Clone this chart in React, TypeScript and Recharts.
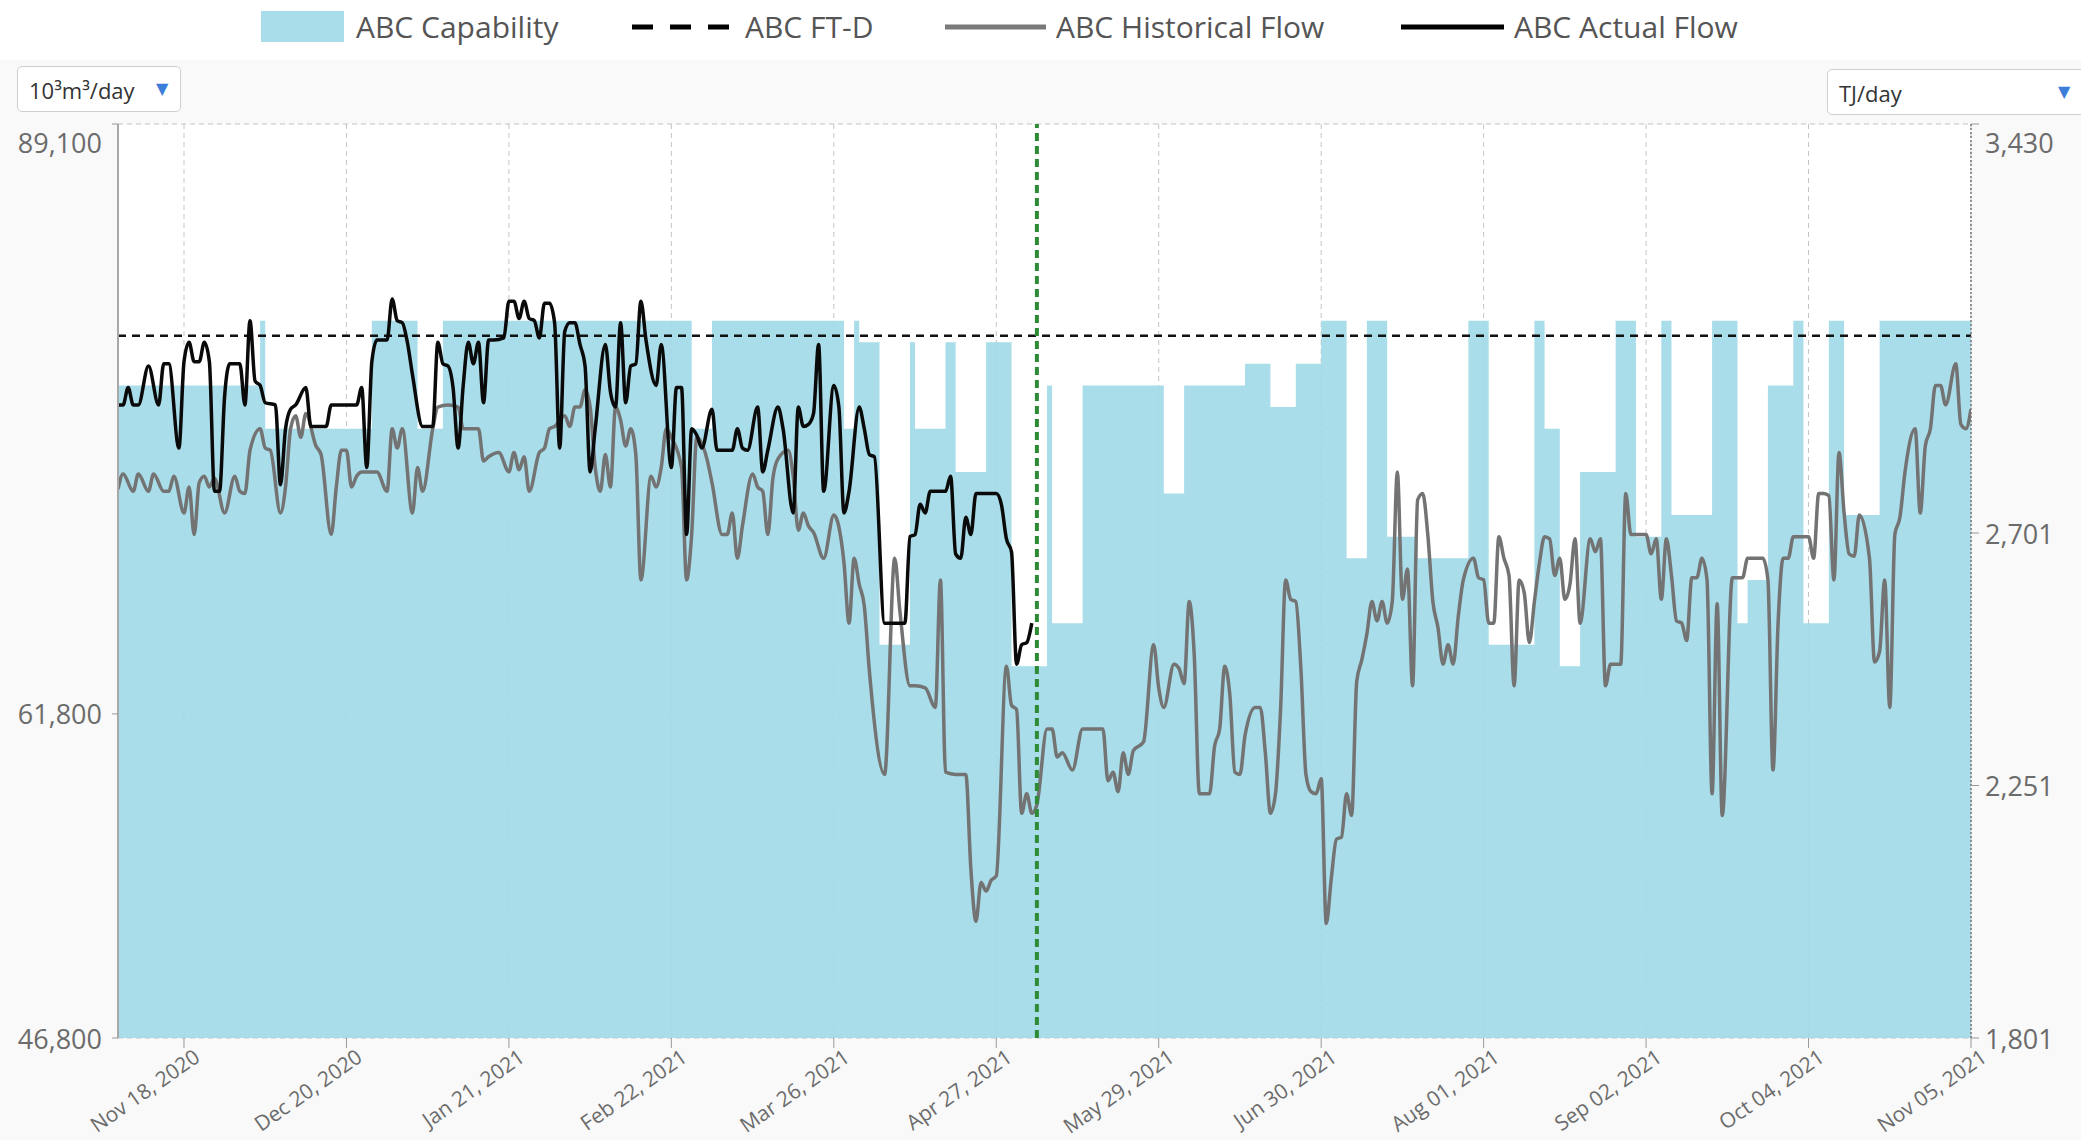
import { ComposedChart, Area, Line, XAxis, YAxis, CartesianGrid, ReferenceLine } from 'recharts'

// day 0 = Nov 05, 2020 (one point per day, only the turning points are listed)
const dateTicks = [13, 45, 77, 109, 141, 173, 205, 237, 269, 301, 333, 365]
const dateLabels = [
  'Nov 18, 2020', 'Dec 20, 2020', 'Jan 21, 2021', 'Feb 22, 2021', 'Mar 26, 2021', 'Apr 27, 2021',
  'May 29, 2021', 'Jun 30, 2021', 'Aug 01, 2021', 'Sep 02, 2021', 'Oct 04, 2021', 'Nov 05, 2021'
]
const volumeTicks = [46800, 61800, 89100]
const energyTicks = [1801, 2251, 2701, 3430]
const ftdLevel = [[0, 79300], [365, 79300]]
const cutoverDay = 181

const capability = [
  [0, 77000], [28, 80000], [29, 75000], [50, 80000], [59, 75000], [64, 80000], [113, 75000],
  [117, 80000], [143, 75000], [145, 80000], [146, 79000], [150, 65000], [156, 79000], [157, 75000],
  [163, 79000], [165, 73000], [171, 79000], [176, 64000], [183, 77000], [184, 66000], [190, 77000],
  [206, 72000], [210, 77000], [222, 78000], [227, 76000], [232, 78000], [237, 80000], [242, 69000],
  [246, 80000], [250, 70000], [256, 69000], [266, 80000], [270, 65000], [279, 80000], [281, 75000],
  [284, 64000], [288, 73000], [295, 80000], [299, 70000], [304, 80000], [306, 71000], [314, 80000],
  [319, 66000], [321, 68000], [325, 77000], [330, 80000], [332, 66000], [337, 80000], [340, 71000],
  [347, 80000], [365, 80000]
]

const historicalFlow = [
  [0, 72200], [1, 72900], [3, 72100], [4, 72900], [6, 72100], [7, 72900], [9, 72100], [10, 72100],
  [11, 72800], [13, 71100], [14, 72300], [15, 70100], [16, 72500], [17, 72800], [18, 72300], [19, 72700],
  [21, 71100], [23, 72800], [24, 72100], [25, 72000], [26, 74000], [28, 75000], [29, 74100], [30, 74000],
  [32, 71100], [33, 72300], [34, 75000], [35, 75600], [36, 74600], [37, 75700], [39, 74200], [40, 73800],
  [42, 70100], [43, 72300], [44, 74000], [45, 74000], [46, 72300], [47, 72800], [48, 73000], [51, 73000],
  [53, 72100], [54, 75000], [55, 74100], [56, 75000], [58, 71100], [59, 73200], [60, 72100], [62, 75000],
  [63, 76000], [65, 76100], [67, 76000], [68, 75000], [71, 75000], [72, 73500], [73, 73700], [75, 73900],
  [77, 73000], [78, 73900], [79, 73100], [80, 73700], [81, 72100], [83, 73900], [84, 74100], [85, 75000],
  [86, 75100], [88, 75600], [89, 75100], [90, 76000], [91, 76000], [92, 76800], [93, 76000], [94, 73200],
  [95, 72100], [96, 73800], [97, 72300], [98, 76000], [99, 75400], [100, 74200], [101, 75000], [102, 73800],
  [103, 68000], [105, 72800], [106, 72300], [107, 73200], [108, 75000], [109, 74600], [111, 73200],
  [112, 68000], [113, 70100], [114, 74600], [116, 73600], [117, 72500], [119, 70100], [120, 70100],
  [121, 71100], [122, 69000], [123, 70500], [125, 72900], [126, 72300], [127, 72100], [128, 70100],
  [129, 72700], [130, 73600], [132, 74000], [133, 72800], [134, 70300], [135, 71100], [136, 70500],
  [137, 70200], [139, 69000], [141, 71000], [143, 68800], [144, 66000], [145, 69000], [146, 67800],
  [147, 66800], [148, 63800], [151, 59000], [153, 69000], [154, 66600], [156, 63100], [157, 63100],
  [159, 63000], [161, 62100], [162, 68000], [163, 59100], [165, 59000], [167, 59000], [168, 54600],
  [169, 52200], [170, 54000], [171, 53600], [172, 54100], [173, 54300], [175, 64000], [176, 62200],
  [177, 62000], [178, 57200], [179, 58100], [180, 57200], [181, 57600], [183, 61100], [184, 61100],
  [185, 59800], [186, 60000], [188, 59200], [190, 61100], [194, 61100], [195, 58700], [196, 59100],
  [197, 58200], [198, 60000], [199, 59000], [200, 60100], [202, 60500], [204, 65000], [205, 63000],
  [206, 62100], [208, 64100], [209, 63900], [210, 63200], [211, 67000], [212, 64500], [213, 58100],
  [215, 58100], [216, 60300], [217, 61100], [218, 64000], [219, 62700], [220, 59100], [221, 59000],
  [222, 60800], [224, 62100], [225, 62100], [226, 60000], [227, 57200], [228, 58100], [229, 62000],
  [230, 68000], [231, 67100], [232, 67000], [233, 63900], [234, 59000], [235, 58200], [236, 58100],
  [237, 58800], [238, 52100], [239, 54200], [240, 56000], [241, 56100], [242, 58100], [243, 57100],
  [244, 63300], [245, 64300], [246, 65500], [247, 67000], [248, 66100], [249, 67000], [250, 66000],
  [251, 67000], [252, 73000], [253, 67100], [254, 68500], [255, 63100], [256, 71700], [257, 72000],
  [258, 70100], [259, 67000], [260, 65800], [261, 64100], [262, 65000], [263, 64100], [264, 66300],
  [265, 68000], [267, 69000], [268, 68100], [269, 68000], [270, 66000], [271, 66000], [272, 70000],
  [273, 69000], [274, 68200], [275, 63100], [276, 68000], [277, 67400], [278, 65100], [279, 67000],
  [280, 68800], [281, 70000], [282, 69900], [283, 68200], [284, 69000], [285, 67100], [286, 67800],
  [287, 69900], [288, 66000], [290, 69900], [291, 69300], [292, 69900], [293, 63100], [294, 64100],
  [296, 64100], [297, 72000], [298, 70100], [301, 70100], [302, 69200], [303, 69900], [304, 67100],
  [305, 69900], [306, 68200], [307, 66100], [308, 66000], [309, 65200], [310, 68100], [311, 68100],
  [312, 69000], [313, 68000], [314, 58100], [315, 66900], [316, 57100], [318, 68100], [320, 68100],
  [321, 69000], [324, 69000], [325, 68000], [326, 59200], [327, 66000], [328, 69000], [329, 69000],
  [330, 70000], [333, 70000], [334, 69000], [335, 72000], [336, 72000], [337, 71900], [338, 68000],
  [339, 73900], [340, 71100], [341, 69200], [342, 69100], [343, 71000], [345, 69000], [346, 64200],
  [347, 64700], [348, 68000], [349, 62100], [350, 70100], [351, 70900], [352, 73000], [354, 75000],
  [355, 71100], [356, 74200], [357, 75000], [358, 77000], [359, 77000], [360, 76100], [362, 78000],
  [363, 75200], [364, 75000], [365, 75900]
]

const actualFlow = [
  [0, 76100], [1, 76100], [2, 76900], [3, 76100], [4, 76100], [6, 77900], [8, 76100], [9, 78000],
  [10, 78000], [12, 74100], [13, 78100], [14, 79000], [15, 78100], [16, 78100], [17, 79000], [18, 78100],
  [19, 72100], [20, 72100], [21, 76500], [22, 78000], [24, 78000], [25, 76100], [26, 80000], [27, 77200],
  [28, 77000], [29, 76200], [31, 76100], [32, 72400], [33, 75000], [34, 75900], [35, 76100], [37, 76900],
  [38, 75100], [41, 75100], [42, 76100], [47, 76100], [48, 76900], [49, 73200], [50, 78100], [51, 79100],
  [53, 79100], [54, 81000], [55, 80000], [56, 79900], [57, 79000], [58, 77500], [60, 75100], [62, 75100],
  [63, 79000], [64, 78000], [65, 77900], [66, 76900], [67, 74100], [68, 77000], [69, 79000], [70, 78000],
  [71, 79000], [72, 76200], [73, 79100], [74, 79100], [76, 79200], [77, 80900], [78, 80900], [79, 80100],
  [80, 80900], [81, 80100], [82, 80000], [83, 79200], [84, 80800], [85, 80800], [86, 79900], [87, 74100],
  [88, 79500], [89, 79900], [90, 79900], [91, 78900], [92, 77900], [93, 73000], [94, 75000], [96, 78900],
  [97, 76700], [98, 76000], [99, 79900], [100, 76200], [101, 77900], [102, 78000], [103, 80900],
  [104, 79100], [106, 77000], [107, 78900], [109, 73200], [110, 76900], [111, 76900], [112, 70100],
  [113, 75000], [114, 74700], [115, 74100], [117, 75900], [118, 74000], [121, 74000], [122, 75000],
  [123, 74100], [124, 74000], [126, 76000], [127, 73000], [128, 74000], [130, 76000], [131, 75000],
  [133, 71100], [134, 76000], [135, 75100], [136, 75200], [137, 75700], [138, 78900], [139, 72100],
  [141, 77000], [142, 76000], [143, 71100], [144, 72100], [146, 76000], [147, 75000], [148, 73800],
  [149, 73700], [151, 66000], [155, 66000], [156, 70000], [157, 70100], [158, 71500], [159, 71100],
  [160, 72100], [163, 72100], [164, 72800], [165, 69200], [166, 69000], [167, 70900], [168, 70100],
  [169, 72000], [173, 72000], [174, 71500], [175, 69900], [176, 69300], [177, 64100], [178, 65000],
  [179, 65100], [180, 66000]
]

const toRows = (pts: number[][]) => pts.map(([day, value]) => ({ day, value }))

const font = '"Open Sans", "DejaVu Sans", sans-serif'

const VolumeTick = ({ x, y, payload }: any) => (
  <text x={x} y={y + (payload.value === 89100 ? 18 : 0)} textAnchor="end" dominantBaseline="central"
    fill="#6b6b6b" fontSize={27} fontFamily={font}>
    {payload.value.toLocaleString('en-US')}
  </text>
)

const EnergyTick = ({ x, y, payload }: any) => (
  <text x={x} y={y + (payload.value === 3430 ? 18 : 0)} textAnchor="start" dominantBaseline="central"
    fill="#6b6b6b" fontSize={27} fontFamily={font}>
    {payload.value.toLocaleString('en-US')}
  </text>
)

const DateTick = ({ x, y, payload }: any) => (
  <g transform={`translate(${x + 10},${y})`}>
    <text transform="rotate(-35)" textAnchor="end" dy="0.6em" fill="#6b6b6b" fontSize={21} fontFamily={font}>
      {dateLabels[dateTicks.indexOf(payload.value)]}
    </text>
  </g>
)

const legendText: any = { position: 'absolute', top: 7, fontSize: 30, fontFamily: font, color: '#555', lineHeight: '40px', whiteSpace: 'nowrap' }

function Legend() {
  return (
    <>
      <div style={{ position: 'absolute', left: 261, top: 11, width: 83, height: 31, background: '#a8dde9' }} />
      <div style={{ ...legendText, left: 356 }}>ABC Capability</div>
      <svg style={{ position: 'absolute', left: 632, top: 22 }} width={100} height={10}>
        <line x1={0} y1={5} x2={98} y2={5} stroke="#000" strokeWidth={5} strokeDasharray="21 17" />
      </svg>
      <div style={{ ...legendText, left: 745 }}>ABC FT-D</div>
      <svg style={{ position: 'absolute', left: 945, top: 22 }} width={102} height={10}>
        <line x1={0} y1={5} x2={101} y2={5} stroke="#7a7a7a" strokeWidth={5} />
      </svg>
      <div style={{ ...legendText, left: 1056 }}>ABC Historical Flow</div>
      <svg style={{ position: 'absolute', left: 1401, top: 22 }} width={104} height={10}>
        <line x1={0} y1={5} x2={103} y2={5} stroke="#000" strokeWidth={5} />
      </svg>
      <div style={{ ...legendText, left: 1514 }}>ABC Actual Flow</div>
    </>
  )
}

function UnitBox({ left, top, width, label, arrowLeft }: any) {
  return (
    <div style={{
      position: 'absolute', left, top, width, height: 46, boxSizing: 'border-box', background: '#fff',
      border: '1px solid #cfcfcf', borderRadius: 5, fontFamily: font, fontSize: 22, color: '#333'
    }}>
      <span style={{ position: 'absolute', left: 11, top: 8 }}>{label}</span>
      <span style={{ position: 'absolute', left: arrowLeft, top: 10, fontSize: 16, color: '#3b7dd8' }}>▼</span>
    </div>
  )
}

export default function App() {
  return (
    <div style={{ position: 'absolute', left: 0, top: 0, width: 2081, height: 1140, overflow: 'hidden', background: '#f9f9f9' }}>
      <div style={{ position: 'absolute', left: 0, top: 0, width: 2081, height: 60, background: '#fff' }} />
      <Legend />
      <UnitBox left={17} top={66} width={164} label="10³m³/day" arrowLeft={138} />
      <UnitBox left={1827} top={69} width={270} label="TJ/day" arrowLeft={230} />
      <div style={{ position: 'absolute', left: 0, top: 0 }}>
        <ComposedChart width={2081} height={1140} margin={{ top: 124, right: 0, bottom: 0, left: 0 }}>
          <CartesianGrid yAxisId="vol" fill="#fff" stroke="#c4c4c4" strokeDasharray="5 4" />
          <XAxis type="number" dataKey="day" domain={[0, 365]} ticks={dateTicks} allowDataOverflow
            height={102} tickSize={10} tickMargin={2} axisLine={false} tickLine={{ stroke: '#999' }} tick={<DateTick />} />
          <YAxis yAxisId="vol" domain={[46800, 89100]} ticks={volumeTicks} allowDataOverflow width={118}
            tickSize={6} tickMargin={10} axisLine={{ stroke: '#a8a8a8', strokeWidth: 2 }} tickLine={{ stroke: '#999' }} tick={<VolumeTick />} />
          <YAxis yAxisId="tj" orientation="right" domain={[1801, 3430]} ticks={energyTicks} allowDataOverflow width={110}
            tickSize={8} tickMargin={6} axisLine={{ stroke: '#777', strokeWidth: 1.5, strokeDasharray: '2 2' }} tickLine={{ stroke: '#999' }} tick={<EnergyTick />} />
          <Area yAxisId="vol" data={toRows(capability)} dataKey="value" type="stepAfter" baseValue={46800}
            fill="#9ed9e7" fillOpacity={0.9} stroke="none" dot={false} activeDot={false} isAnimationActive={false} />
          <Line yAxisId="vol" data={toRows(ftdLevel)} dataKey="value" type="linear" stroke="#111" strokeWidth={2.5}
            strokeDasharray="8 6" dot={false} activeDot={false} isAnimationActive={false} />
          <Line yAxisId="vol" data={toRows(historicalFlow)} dataKey="value" type="monotone" stroke="#737373" strokeWidth={3.5}
            dot={false} activeDot={false} isAnimationActive={false} />
          <Line yAxisId="vol" data={toRows(actualFlow)} dataKey="value" type="monotone" stroke="#0a0a0a" strokeWidth={3.5}
            dot={false} activeDot={false} isAnimationActive={false} />
          <ReferenceLine yAxisId="vol" x={cutoverDay} stroke="#2f8a36" strokeWidth={4} strokeDasharray="8 5" />
        </ComposedChart>
      </div>
    </div>
  )
}
